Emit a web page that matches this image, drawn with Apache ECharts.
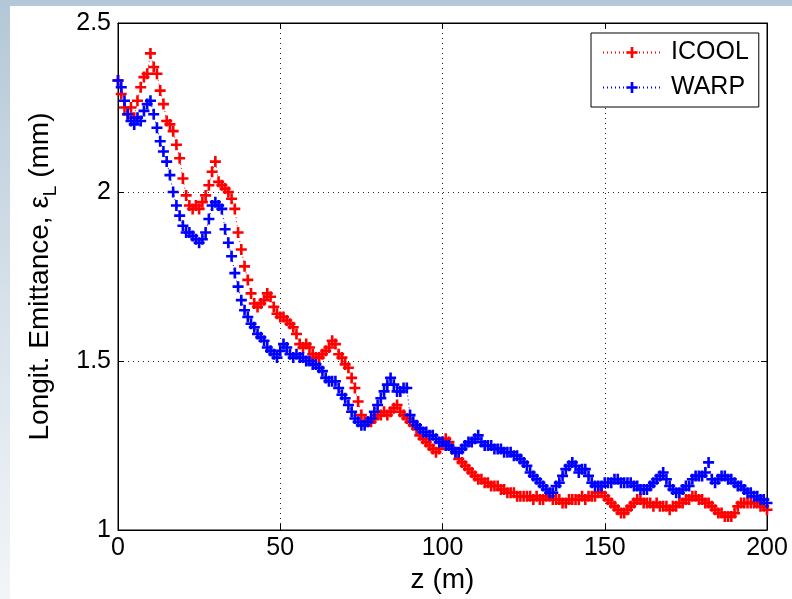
<!DOCTYPE html>
<html>
<head>
<meta charset="utf-8">
<script src="https://cdn.jsdelivr.net/npm/echarts@6/dist/echarts.min.js"></script>
<style>
    html, body { margin: 0; padding: 0; }
    body {
        width: 792px; height: 599px; overflow: hidden; position: relative;
        background: linear-gradient(to bottom, #b3c7d6 0%, #d6e1ea 50%, #f2f5f8 100%);
    }
    #paper { position: absolute; left: 10px; top: 6px; right: 0; bottom: 0; background: #fff; }
    #main { position: absolute; left: 0; top: 0; width: 792px; height: 599px; }
</style>
</head>
<body>
<div id="paper"></div>
<div id="main"></div>
<script>
// z sampled every 1 m, 0 .. 200
const zStep = 1

// ICOOL emittance (mm)
const icool = [
    2.33, 2.29, 2.25, 2.23, 2.25, 2.22, 2.27, 2.31, 2.34, 2.35,
    2.41, 2.37, 2.35, 2.30, 2.26, 2.21, 2.20, 2.18, 2.14, 2.10,
    2.04, 1.99, 1.96, 1.95, 1.96, 1.95, 1.97, 1.99, 2.02, 2.06,
    2.09, 2.03, 2.02, 2.01, 2.00, 1.98, 1.95, 1.88, 1.83, 1.78,
    1.74, 1.70, 1.67, 1.66, 1.67, 1.68, 1.70, 1.69, 1.66, 1.64,
    1.63, 1.63, 1.62, 1.61, 1.60, 1.58, 1.55, 1.54, 1.55, 1.54,
    1.52, 1.51, 1.51, 1.52, 1.53, 1.54, 1.56, 1.55, 1.52, 1.51,
    1.49, 1.48, 1.45, 1.42, 1.38, 1.34, 1.32, 1.32, 1.32, 1.33,
    1.34, 1.34, 1.35, 1.34, 1.35, 1.36, 1.37, 1.35, 1.34, 1.33,
    1.32, 1.31, 1.30, 1.28, 1.27, 1.26, 1.25, 1.24, 1.23, 1.24,
    1.26, 1.27, 1.26, 1.24, 1.23, 1.21, 1.20, 1.19, 1.18, 1.17,
    1.16, 1.15, 1.15, 1.14, 1.14, 1.13, 1.13, 1.13, 1.12, 1.12,
    1.11, 1.11, 1.11, 1.10, 1.10, 1.10, 1.10, 1.10, 1.09, 1.10,
    1.09, 1.09, 1.10, 1.10, 1.09, 1.09, 1.09, 1.08, 1.08, 1.09,
    1.09, 1.09, 1.09, 1.10, 1.09, 1.10, 1.10, 1.10, 1.11, 1.11,
    1.10, 1.09, 1.08, 1.07, 1.06, 1.05, 1.05, 1.06, 1.07, 1.08,
    1.09, 1.09, 1.08, 1.08, 1.08, 1.07, 1.08, 1.07, 1.07, 1.07,
    1.06, 1.07, 1.07, 1.08, 1.08, 1.09, 1.09, 1.10, 1.10, 1.09,
    1.09, 1.08, 1.08, 1.07, 1.06, 1.05, 1.05, 1.04, 1.04, 1.04,
    1.05, 1.07, 1.08, 1.08, 1.08, 1.08, 1.08, 1.08, 1.07, 1.07,
    1.06
]

// WARP emittance (mm)
const warp = [
    2.33, 2.31, 2.27, 2.23, 2.21, 2.20, 2.22, 2.21, 2.24, 2.26,
    2.27, 2.23, 2.19, 2.15, 2.12, 2.09, 2.05, 2.00, 1.96, 1.93,
    1.90, 1.88, 1.88, 1.87, 1.86, 1.85, 1.86, 1.88, 1.92, 1.96,
    1.97, 1.96, 1.95, 1.89, 1.85, 1.81, 1.76, 1.72, 1.68, 1.65,
    1.63, 1.61, 1.60, 1.58, 1.57, 1.56, 1.54, 1.53, 1.52, 1.51,
    1.53, 1.55, 1.54, 1.52, 1.51, 1.52, 1.51, 1.51, 1.50, 1.50,
    1.49, 1.49, 1.48, 1.47, 1.45, 1.44, 1.44, 1.44, 1.42, 1.40,
    1.39, 1.37, 1.35, 1.33, 1.32, 1.31, 1.31, 1.32, 1.33, 1.35,
    1.37, 1.39, 1.41, 1.43, 1.45, 1.43, 1.41, 1.41, 1.42, 1.42,
    1.34, 1.32, 1.31, 1.30, 1.29, 1.29, 1.28, 1.28, 1.27, 1.26,
    1.26, 1.25, 1.25, 1.24, 1.23, 1.23, 1.24, 1.25, 1.26, 1.26,
    1.27, 1.28, 1.26, 1.25, 1.25, 1.25, 1.24, 1.24, 1.24, 1.23,
    1.23, 1.23, 1.22, 1.22, 1.21, 1.20, 1.19, 1.17, 1.16, 1.15,
    1.14, 1.13, 1.12, 1.11, 1.11, 1.13, 1.14, 1.16, 1.18, 1.19,
    1.20, 1.19, 1.17, 1.18, 1.18, 1.16, 1.14, 1.13, 1.13, 1.13,
    1.14, 1.14, 1.14, 1.15, 1.15, 1.14, 1.14, 1.14, 1.14, 1.13,
    1.13, 1.12, 1.12, 1.12, 1.13, 1.14, 1.15, 1.16, 1.17, 1.15,
    1.13, 1.12, 1.11, 1.11, 1.12, 1.13, 1.13, 1.15, 1.16, 1.16,
    1.16, 1.17, 1.20, 1.15, 1.14, 1.15, 1.16, 1.16, 1.15, 1.15,
    1.14, 1.13, 1.13, 1.12, 1.11, 1.11, 1.10, 1.10, 1.09, 1.09,
    1.08
]

const seriesNames = ['ICOOL', 'WARP']
const seriesColors = ['#ff0000', '#0000ff']

const xTicks = { min: 0, max: 200, interval: 50 }
const yTicks = { min: 1, max: 2.5, interval: 0.5 }

const FONT = 'Liberation Sans, Arial, sans-serif'
// filled "+" marker
const PLUS = 'path://M4.2,0H6.8V4.2H11V6.8H6.8V11H4.2V6.8H0V4.2H4.2Z'

const toPairs = vals => vals.map((v, i) => [i * zStep, v])

const chart = echarts.init(document.getElementById('main'), null, { renderer: 'canvas' })

const axisLine = { show: true, onZero: false, lineStyle: { color: '#000', width: 1 } }
const tickIn = { show: true, inside: true, length: 6, lineStyle: { color: '#000' } }
const gridLine = { show: true, lineStyle: { color: '#222', width: 1, type: [1, 4] } }

const option = {
    backgroundColor: 'transparent',
    animation: false,
    grid: { left: 118, top: 23, right: 25, bottom: 69, show: true, backgroundColor: '#fff', borderColor: '#000', borderWidth: 1 },
    legend: {
        data: seriesNames,
        orient: 'vertical',
        left: 591, top: 33,
        padding: [7, 10, 7, 11],
        itemWidth: 58, itemHeight: 14, itemGap: 10,
        backgroundColor: '#fff',
        borderColor: '#000', borderWidth: 1, borderRadius: 0,
        textStyle: { fontFamily: FONT, fontSize: 25, color: '#000', padding: [0, 0, 0, 5] },
    },
    xAxis: [
        {
            type: 'value', position: 'bottom',
            min: xTicks.min, max: xTicks.max, interval: xTicks.interval,
            name: 'z (m)', nameLocation: 'middle', nameGap: 34,
            nameTextStyle: { fontFamily: FONT, fontSize: 28, color: '#000' },
            axisLine, axisTick: tickIn, splitLine: gridLine,
            axisLabel: { fontFamily: FONT, fontSize: 25, color: '#000', margin: 6 },
        },
        {
            type: 'value', position: 'top',
            min: xTicks.min, max: xTicks.max, interval: xTicks.interval,
            axisLine, axisTick: tickIn, splitLine: { show: false }, axisLabel: { show: false },
        },
    ],
    yAxis: [
        {
            type: 'value', position: 'left',
            min: yTicks.min, max: yTicks.max, interval: yTicks.interval,
            name: '{t|Longit. Emittance, ε}{s|L}{t| (mm)}',
            nameLocation: 'middle', nameGap: 58, nameRotate: 90,
            nameTextStyle: {
                fontFamily: FONT, color: '#000',
                rich: {
                    t: { fontFamily: FONT, fontSize: 28, color: '#000', lineHeight: 40, verticalAlign: 'middle' },
                    s: { fontFamily: FONT, fontSize: 19, color: '#000', lineHeight: 40, verticalAlign: 'bottom' },
                },
            },
            axisLine, axisTick: tickIn, splitLine: gridLine,
            axisLabel: { fontFamily: FONT, fontSize: 25, color: '#000', margin: 7 },
        },
        {
            type: 'value', position: 'right',
            min: yTicks.min, max: yTicks.max, interval: yTicks.interval,
            axisLine, axisTick: tickIn, splitLine: { show: false }, axisLabel: { show: false },
        },
    ],
    series: [icool, warp].map((vals, k) => ({
        name: seriesNames[k],
        type: 'line',
        data: toPairs(vals),
        symbol: PLUS,
        symbolSize: 11,
        showAllSymbol: true,
        itemStyle: { color: seriesColors[k] },
        lineStyle: { color: seriesColors[k], width: 1, type: [1, 3] },
        z: 2 + k,
    })),
}

chart.setOption(option)
</script>
</body>
</html>
